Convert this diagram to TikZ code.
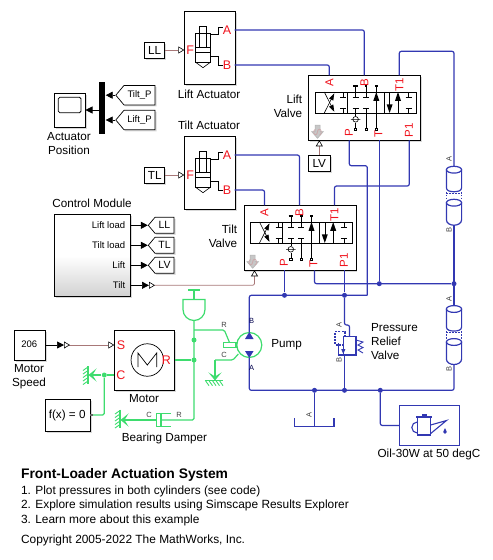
\documentclass[tikz,border=0pt]{standalone}
\usepackage{fontspec}
\setmainfont{Liberation Sans}
\usetikzlibrary{arrows.meta,shapes.symbols,shadows}
\definecolor{hydblue}{RGB}{50,56,178}
\definecolor{mechgreen}{RGB}{62,220,110}
\definecolor{psbrown}{RGB}{168,120,120}
\definecolor{portred}{RGB}{240,20,30}
\newcommand{\fsz}[1]{\fontsize{#1}{14}\selectfont}
\tikzset{
  softshadow/.style={drop shadow={shadow xshift=1.5pt,shadow yshift=-1.5pt,opacity=.3}},
  block/.style={draw=black,line width=.8pt,fill=white,inner sep=0pt,anchor=north west,softshadow},
  smallblock/.style={draw=black,line width=.8pt,fill=white,inner sep=0pt,minimum height=16pt,softshadow},
  tagbox/.style={signal,signal to=west,draw=black,line width=.7pt,fill=white,inner sep=1pt,signal pointer angle=100,align=center,softshadow},
  lbl/.style={font=\fsz{11.7},align=center,inner sep=0pt},
  textline/.style={anchor=west,inner sep=0pt,font=\fsz{11.9},text height=8.4pt,text depth=2pt},
  small/.style={font=\fsz{7.5},inner sep=0pt,text=black!75},
  smallrot/.style={small,rotate=90},
  red port/.style={font=\fsz{12.5},text=portred,inner sep=0pt},
  red rot/.style={font=\fsz{11.5},text=portred,inner sep=0pt,rotate=90},
  hyd/.style={draw=hydblue,line width=1.2pt,rounded corners=2pt},
  mech/.style={draw=mechgreen,line width=1.2pt,rounded corners=1.5pt},
  mechend/.style={mech,-{Stealth[length=8pt,width=13pt,inset=4pt]}},
  sig/.style={draw=black,line width=.7pt,-{Triangle[length=7pt,width=7pt]}},
  psline/.style={draw=psbrown,line width=.8pt,-{Triangle[open,length=6pt,width=7pt,color=black,fill=white,line width=.6pt]}},
  psboth/.style={draw=psbrown,line width=.8pt,rounded corners=2pt,{Triangle[open,reversed,length=6pt,width=7pt,color=black,fill=white,line width=.6pt]}-{Triangle[open,length=6pt,width=7pt,color=black,fill=white,line width=.6pt]}},
  jdot/.style={circle,inner sep=0pt,minimum size=5pt},
  thin sym/.style={line width=.6pt,draw=black},
}
\tikzset{
  cylact/.pic={
    \node[block,minimum width=50.4pt,minimum height=73pt] (-box) at (0,0) {};
    \draw[thin sym] (11,22) rectangle (26.4,50.7);
    \draw[thin sym] (15,14.7) rectangle (22.4,36.4);
    \draw[thin sym] (11,36.4)--(26.4,36.4) (11,41.4)--(26.4,41.4);
    \draw[thin sym] (11,50.7)--(18.7,56.4)--(26.4,50.7);
    \draw[thin sym] (26.4,23)--(34.4,23)--(34.4,16)--(39,16);
    \draw[thin sym] (26.4,45)--(34.4,45)--(34.4,53.7)--(39,53.7);
    \node[red port] (-F) at (5.8,38.7) {F};
    \node[red port] (-Atxt) at (42.7,18.7) {A};
    \node[red port] (-Btxt) at (42.7,53.7) {B};
    \coordinate (-A) at (50.4,18.7);
    \coordinate (-B) at (50.4,53.7);
    \coordinate (-Fin) at (0,38.7);
  },
  dirvalve/.pic={
    \node[block,minimum width=112pt,minimum height=65pt] (-box) at (0,0) {};
    \draw[thin sym] (7,16.7) rectangle (108.3,37.7);
    \draw[thin sym] (39,16.7)--(39,37.7) (76,16.7)--(76,37.7);
    \foreach \tx in {35,100.3}{
      \draw[thin sym] (\tx,16.7)--(\tx,22.3) (\tx-3,22.3)--(\tx+3,22.3);
      \draw[thin sym] (\tx,37.7)--(\tx,33) (\tx-3,33)--(\tx+3,33);
    }
    \draw[thin sym,-{Triangle[length=7pt,width=4.5pt]}] (16,37.7)--(26,18);
    \draw[thin sym,-{Triangle[length=7pt,width=4.5pt]}] (16,16.7)--(26,36.5);
    \foreach \tx in {47.3,57.7}{
      \draw[thin sym] (\tx,10.7)--(\tx,22.3) (\tx-3,22.3)--(\tx+3,22.3);
      \draw[thin sym] (\tx-3,33)--(\tx+3,33);
    }
    \draw[line width=1.6pt] (45,10.7)--(49.6,10.7) (56.4,10.7)--(59,10.7);
    \draw[thin sym] (47.3,33)--(47.3,40.5) (47.3,47.5)--(47.3,53);
    \draw[thin sym] (47.3,44) circle (2.8pt) (42.5,44)--(52,44);
    \draw[thin sym] (57.7,33)--(57.7,53);
    \draw[thin sym] (68,10.7)--(68,53);
    \draw[line width=1.6pt] (66.5,10.7)--(69.5,10.7);
    \fill (68,16.7)--(65,25.5)--(71,25.5)--cycle;
    \fill (81.3,37.7)--(78.3,29)--(84.3,29)--cycle;
    \draw[thin sym] (81.3,16.7)--(81.3,30);
    \fill (89.7,16.7)--(86.7,25.5)--(92.7,25.5)--cycle;
    \draw[thin sym] (89.7,25)--(89.7,37.7);
    \foreach \tx in {47.3,57.7,68}{
      \draw[thin sym,fill=white] (\tx-1.1,52.6) rectangle (\tx+1.1,54.8);
    }
    \draw[draw=black!30,fill=black!22,line width=.5pt] (6.7,49.7)--(11.7,49.7)--(11.7,56.4)--(15,56.4)--(9.2,63)--(3.4,56.4)--(6.7,56.4)--cycle;
    \node[red rot,text=portred!45!black!35] (-S) at (9.3,57.8) {S};
    \node[red rot] (-Atxt) at (21,7) {A};
    \node[red rot] (-Btxt) at (56,7) {B};
    \node[red rot] (-T1txt) at (91,9.7) {T1};
    \node[red rot] (-Ptxt) at (40.5,57.7) {P};
    \node[red rot] (-Ttxt) at (70,58.2) {T};
    \node[red rot] (-P1txt) at (100.5,55) {P1};
    \coordinate (-A) at (21,0);
    \coordinate (-B) at (56,0);
    \coordinate (-T1) at (91,0);
    \coordinate (-P) at (41,65);
    \coordinate (-T) at (71,65);
    \coordinate (-P1) at (101,65);
    \coordinate (-Sin) at (11,65);
  },
  hydcyl/.pic={
    \draw[hydblue,line width=1.2pt] (0,0) ellipse (7.6pt and 3.4pt);
    \draw[hydblue,line width=1.2pt] (-7.6,0)--(-7.6,18) to[out=-90,in=180] (0,22) to[out=0,in=-90] (7.6,18)--(7.6,0);
    \draw[hydblue,line width=1.1pt,dash pattern=on 1.5pt off 1.5pt] (-7.6,22)--(-7.6,30) (7.6,22)--(7.6,30) (-7.6,23.5)--(7.6,23.5);
    \draw[hydblue,line width=1.2pt] (0,33) ellipse (7.6pt and 3.4pt);
    \draw[hydblue,line width=1.2pt] (-7.6,33)--(-7.6,50) to[out=-90,in=180] (0,55.5) to[out=0,in=-90] (7.6,50)--(7.6,33);
    \coordinate (-A) at (0,-3.4);
    \coordinate (-B) at (0,55.5);
    \node[smallrot] (-Atxt) at (-4.9,-10.4) {A};
    \node[smallrot] (-Btxt) at (-4.9,60.3) {B};
  },
  mechbar/.pic={
    \draw[mechgreen,line width=1.1pt] (0,-9)--(0,9);
    \foreach \hy in {-8,-4.5,-1,2.5,6}{
      \draw[mechgreen,line width=.9pt] (0,\hy)--(-5,\hy+3.5);
    }
  },
}
\begin{document}
\begin{tikzpicture}[x=1pt,y=-1pt,line width=.7pt,font=\fsz{11.7}]
\useasboundingbox (0,0) rectangle (493,560);
\pic (liftact) at (184.3,11.3) {cylact};
\pic (tiltact) at (184.3,136.3) {cylact};
\pic (lift) at (308.3,75.3) {dirvalve};
\pic (tilt) at (243.5,205.3) {dirvalve};
\pic (cylup) at (454,169.7) {hydcyl};
\pic (cyllow) at (454,309) {hydcyl};
\node[lbl] (liftactlbl) at (209,94) {Lift Actuator};
\node[lbl] (tiltactlbl) at (209,125.5) {Tilt Actuator};
\node[lbl,align=right,anchor=east] (liftlbl) at (302.5,106.5) {Lift\\Valve};
\node[lbl,align=right,anchor=east] (tiltlbl) at (237.5,236.5) {Tilt\\Valve};
\node[smallblock,minimum width=20pt] (LLbox) at (154.7,50) {LL};
\node[smallblock,minimum width=20pt] (TLbox) at (154.7,175) {TL};
\node[smallblock,minimum width=22pt] (LVbox) at (319.3,163) {LV};
\draw[psline] (LLbox) -- (liftact-Fin);
\draw[psline] (TLbox) -- (tiltact-Fin);
\draw[psline] (LVbox) -- (lift-Sin);
\node[block,minimum width=30.4pt,minimum height=34pt] (scope) at (54.3,93.3) {};
\draw[line width=.8pt,rounded corners=1.5pt] (58.3,97.3) rectangle (81,112.7);
\node[lbl] (scopelbl) at (69,144) {Actuator\\Position};
\node[anchor=north west,fill=black,minimum width=6pt,minimum height=51.7pt,inner sep=0pt] (mux) at (99,82) {};
\node[tagbox,font=\fsz{9.5},minimum height=19.5pt,text width=29pt] (tiltP) at (139.5,95.2) {Tilt\_P};
\node[tagbox,font=\fsz{9.5},minimum height=19.5pt,text width=29pt] (liftP) at (139.5,120) {Lift\_P};
\draw[sig] (tiltP.west) -- (tiltP.west-|mux.east);
\draw[sig] (liftP.west) -- (liftP.west-|mux.east);
\draw[sig] (mux.west|-0,110) -- (scope.east|-0,110);
\node[lbl] (ctrllbl) at (92,203.5) {Control Module};
\node[block,minimum width=75.4pt,minimum height=82pt,top color=white,bottom color=black!18,middle color=white] (ctrl) at (54.3,214.3) {};
\node[font=\fsz{9.5},anchor=east,inner sep=0pt] (ctrlLL) at (125.5,225.5) {Lift load};
\node[font=\fsz{9.5},anchor=east,inner sep=0pt] (ctrlTL) at (125.5,245.5) {Tilt load};
\node[font=\fsz{9.5},anchor=east,inner sep=0pt] (ctrlLV) at (125.5,265.5) {Lift};
\node[font=\fsz{9.5},anchor=east,inner sep=0pt] (ctrlTV) at (125.5,285.5) {Tilt};
\node[tagbox,font=\fsz{10.5},minimum height=16pt,text width=17pt] (tagLL) at (164.5,225.3) {LL};
\node[tagbox,font=\fsz{10.5},minimum height=16pt,text width=17pt] (tagTL) at (164.5,245.3) {TL};
\node[tagbox,font=\fsz{10.5},minimum height=16pt,text width=17pt] (tagLV) at (164.5,265.3) {LV};
\draw[sig] (ctrl.east|-tagLL.west) -- (tagLL.west);
\draw[sig] (ctrl.east|-tagTL.west) -- (tagTL.west);
\draw[sig] (ctrl.east|-tagLV.west) -- (tagLV.west);
\coordinate (tiltconv) at (149,285.3);
\draw[sig] (ctrl.east|-tiltconv) -- (tiltconv);
\draw[psboth] (tiltconv) -- (254.5,285.3) -- (tilt-Sin);
\draw[hyd] (liftact-A) -| (lift-B);
\draw[hyd] (liftact-B) -| (lift-A);
\draw[hyd] (tiltact-A) -| (tilt-B);
\draw[hyd] (tiltact-B) -| (tilt-A);
\draw[hyd] (lift-T1) -- ++(0,-24) -| (cylup-A);
\coordinate (bustop) at (367.3,295.3);
\coordinate (busT) at (379.3,283.7);
\node[jdot,fill=hydblue] (dotT) at (busT) {};
\node[jdot,fill=hydblue] (dotcyl) at (454,283.7) {};
\node[jdot,fill=hydblue] (dotP) at (284.5,295.3) {};
\node[jdot,fill=hydblue] (dotP1) at (344.5,295.3) {};
\draw[hyd] (lift-P) -- ++(0,25.4) -| (bustop);
\draw[hyd] (lift-T) -- (dotT);
\draw[hyd] (lift-P1) -- ++(0,45.7) -| (tilt-T1);
\draw[hyd] (tilt-T) -- ++(0,13.4) -- (dotcyl);
\draw[hyd] (tilt-P) -- (dotP);
\draw[hyd] (tilt-P1) -- (dotP1);
\draw[hyd] (cylup-B) -- (cyllow-A);
\node[circle,draw=mechgreen,line width=1.2pt,minimum size=25pt,inner sep=0pt] (pump) at (249.3,345) {};
\draw[hyd] (bustop) -- (249.3,295.3) -- (pump.north);
\draw[hyd] (pump.south) -- (249.3,390.3) -- (454,390.3) -- (cyllow-B);
\fill[hydblue] (249.3,332)--(245,339)--(253.6,339)--cycle;
\fill[hydblue] (249.3,358)--(245,351)--(253.6,351)--cycle;
\node[small,text=black!70!blue] (pumpB) at (251.7,320.7) {B};
\node[small,text=black!70!blue] (pumpA) at (251.7,367.7) {A};
\node[lbl,anchor=west] (pumplbl) at (271,345) {Pump};
\coordinate (reliefA) at (344.5,325);
\draw[hyd] (dotP1) -- (reliefA) -- (349.5,325) -- (349.5,336.7);
\draw[hydblue,line width=1.1pt] (343.3,336.7) rectangle (356,355);
\draw[hydblue,line width=1.1pt] (338.7,343)--(338.7,355)--(343.3,355);
\draw[hydblue,line width=1.1pt,dash pattern=on 2pt off 1.2pt] (345,336.7)--(345,331.7)--(335,331.7)--(335,345)--(343.3,345);
\draw[hydblue,line width=.8pt,-{Triangle[length=5pt,width=4pt]}] (343.3,338)--(343.3,354);
\draw[hydblue,line width=.9pt] (356,340)--(363,342)--(358,345)--(363,347.5)--(358,350)--(363,353);
\draw[hyd] (344.5,355) -- (344.5,390.3);
\node[smallrot] (reliefAt) at (339,324.5) {A};
\node[smallrot] (reliefBt) at (339,360) {B};
\node[lbl,anchor=west,align=left] (relieflbl) at (370.7,341.5) {Pressure\\Relief\\Valve};
\node[jdot,fill=hydblue] (dottank) at (314.5,390.3) {};
\node[jdot,fill=hydblue] (dotrel) at (344.5,390.3) {};
\node[jdot,fill=hydblue] (dotoil) at (380.3,390.3) {};
\coordinate (tankb) at (314.5,426.3);
\draw[hyd] (dottank) -- (tankb);
\draw[hydblue,line width=1.1pt] (294.3,418)--(294.3,426.3)--(334,426.3)--(334,418);
\node[smallrot] (tankA) at (309,414.5) {A};
\node[draw=hydblue,line width=1.2pt,anchor=north west,minimum width=60pt,minimum height=39.7pt,inner sep=0pt] (oil) at (399,405) {};
\draw[hyd] (dotoil) |- (oil.west);
\draw[hydblue,line width=1.1pt] (417.3,417) rectangle (430.7,435);
\draw[hydblue,line width=1.1pt] (416,417)--(432,417);
\fill[hydblue] (421.7,413.7) rectangle (427.3,417);
\draw[hydblue,line width=1.1pt] (417.3,422) arc[start angle=90,end angle=270,radius=5.5pt];
\draw[hydblue,line width=1.1pt] (430.7,425)--(446.5,420.5)--(430.7,433.5);
\fill[hydblue] (445,428)--(446.8,432) arc[start angle=0,end angle=-180,radius=1.8pt]--cycle;
\node[lbl] (oillbl) at (429,454) {Oil-30W at 50 degC};
\node[block,minimum width=60pt,minimum height=60pt] (motor) at (114.3,330.3) {};
\node[draw,circle,line width=.7pt,minimum size=32.5pt,inner sep=0pt] (motorsym) at (147.3,360) {};
\draw[line width=.7pt] (138,367)--(138,353)--(147.3,365)--(156.7,353)--(156.7,367);
\node[red port] (motorS) at (121,344.8) {S};
\node[red port] (motorC) at (121,375) {C};
\node[red port] (motorR) at (166.5,360) {R};
\node[lbl] (motorlbl) at (144,399) {Motor};
\node[block,minimum width=30.4pt,minimum height=30pt] (speed) at (14.3,330.3) {};
\node[font=\fsz{9.5},inner sep=0pt] (speedval) at (29.3,344.5) {206};
\node[lbl] (speedlbl) at (29,377) {Motor\\Speed};
\coordinate (speedconv) at (64,345);
\draw[sig] (speed.east|-speedconv) -- (speedconv);
\draw[psboth] (speedconv) -- (motor.west|-speedconv);
\node[block,minimum width=45pt,minimum height=32pt] (fx) at (44.7,399.3) {};
\node[inner sep=0pt] (fxtxt) at (67.2,415.3) {f(x) = 0};
\node[jdot,fill=mechgreen] (dotC) at (104.3,375) {};
\pic at (88,375) {mechbar};
\draw[mech] (dotC) -- (motor.west|-dotC);
\draw[mechend] (dotC) -- (88.5,375);
\draw[mech] (dotC) -- (104.3,415) -- (fx.east|-0,415);
\fill[black!60] (90,413.8) rectangle (93,416.2);
\pic at (120,418.5) {mechbar};
\node[small] (dampC) at (149,415.3) {C};
\node[small] (dampR) at (179,415.3) {R};
\node[lbl] (damplbl) at (164.5,438) {Bearing Damper};
\draw[mechgreen,line width=1.1pt] (171,413.5)--(156.7,413.5)--(156.7,426.7)--(171,426.7);
\draw[mechgreen,line width=1.5pt] (161,414)--(161,426);
\draw[mechend] (156.7,420)--(120.5,420);
\node[jdot,fill=mechgreen] (dotup) at (194,340) {};
\node[jdot,fill=mechgreen] (dotR) at (194,360) {};
\draw[mech] (motor.east|-dotR) -- (dotR);
\draw[mech] (194,320) -- (194,420) -- (161,420);
\draw[mechgreen,line width=1.2pt] (188,290)--(200,290) (194,290)--(194,299.5);
\draw[mechgreen,line width=1.2pt] (183,299.5)--(205,299.5)--(205,309.5) arc[start angle=0,delta angle=-180,radius=11pt]--cycle;
\draw[mech] (194,330) -- (224.3,330) -- (229.3,342);
\draw[mechgreen,line width=1.1pt] (223.3,342.3) rectangle (236,347.3);
\draw[mech] (238.3,354) -- (233,360) -- (215,360);
\draw[mechend] (215,360) -- (215,380.5);
\pic[rotate=90] at (213.5,380.7) {mechbar};
\node[small] (pumpR) at (224,325) {R};
\node[small] (pumpC) at (224,354.7) {C};
\node[textline,font=\fsz{13.85}\bfseries,text height=9.5pt] (title) at (20.7,475) {Front-Loader Actuation System};
\node[textline] (item1) at (20.7,491.7) {1. Plot pressures in both cylinders (see code)};
\node[textline] (item2) at (20.7,505.7) {2. Explore simulation results using Simscape Results Explorer};
\node[textline] (item3) at (20.7,520) {3. Learn more about this example};
\node[textline] (copy) at (20.7,540.7) {Copyright 2005-2022 The MathWorks, Inc.};
\end{tikzpicture}
\end{document}
